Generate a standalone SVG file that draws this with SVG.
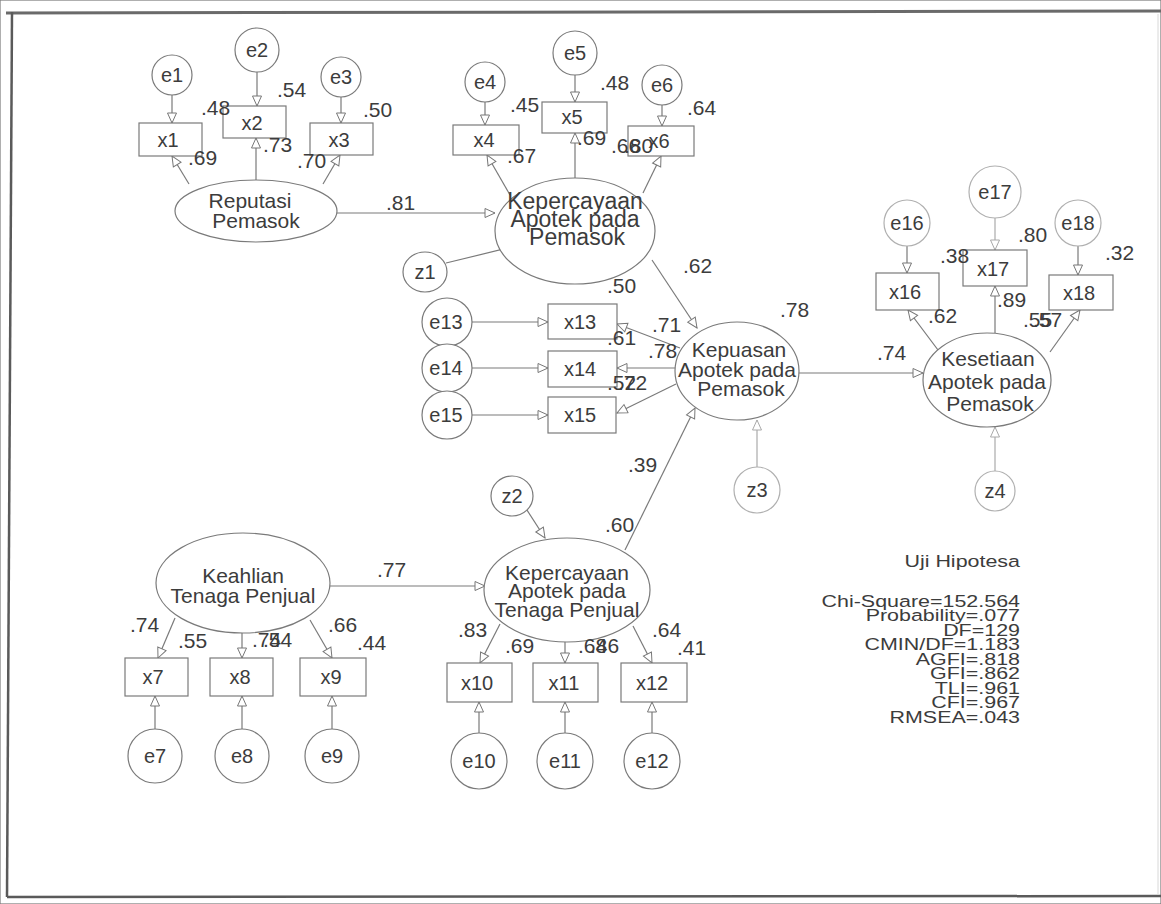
<svg xmlns="http://www.w3.org/2000/svg" width="1161" height="904" viewBox="0 0 1161 904">
<defs>
<marker id="ah" markerUnits="userSpaceOnUse" markerWidth="12" markerHeight="12" refX="11" refY="5" orient="auto" overflow="visible">
<path d="M1,0.5 L11,5 L1,9.5 Z" fill="#fff" stroke="#777" stroke-width="1"/>
</marker>
<marker id="ahl" markerUnits="userSpaceOnUse" markerWidth="12" markerHeight="12" refX="11" refY="5" orient="auto" overflow="visible">
<path d="M1,0.5 L11,5 L1,9.5 Z" fill="#fff" stroke="#aaa" stroke-width="1"/>
</marker>
</defs>
<style>
text{font-family:"Liberation Sans",Arial,sans-serif;fill:#3c3c3c}
.num{font-size:21px}
.lbl{font-size:20px;text-anchor:middle}
.ci{font-size:20px;text-anchor:middle}
.lat{font-size:21px;text-anchor:middle}
.lat2{font-size:23px;text-anchor:middle}
.st{font-size:16.5px;text-anchor:end}
ellipse,rect{fill:#fff;stroke:#7a7a7a;stroke-width:1.2}
.light{stroke:#b0b0b0}
#connectors line{stroke:#7a7a7a;stroke-width:1.2;marker-end:url(#ah)}
#connectors line.lt{stroke:#aaa;marker-end:url(#ahl)}
</style>
<rect x="0" y="0" width="1161" height="904" fill="#fff" stroke="none"/>
<g id="frame" fill="none">
<path d="M6,13 L1161,11" stroke="#6a6a6a" stroke-width="3"/>
<path d="M12,12 L7,897" stroke="#5a5a5a" stroke-width="2.5"/>
<path d="M7,897 L1161,896" stroke="#5a5a5a" stroke-width="2.5"/>
<path d="M1158,14 L1158,895" stroke="#d8d8d8" stroke-width="1"/>
</g>

<g id="connectors">
<line x1="172" y1="95" x2="172" y2="123"/>
<line x1="257" y1="72" x2="257" y2="106"/>
<line x1="341" y1="97" x2="341" y2="123"/>
<line x1="189" y1="184" x2="172" y2="156"/>
<line x1="256" y1="180" x2="256" y2="138"/>
<line x1="323" y1="184" x2="340" y2="155"/>
<line x1="337" y1="213" x2="495" y2="213"/>
<line x1="485" y1="102" x2="485" y2="125"/>
<line x1="575" y1="75" x2="575" y2="102"/>
<line x1="662" y1="105" x2="662" y2="126"/>
<line x1="510" y1="195" x2="487" y2="155"/>
<line x1="575" y1="178" x2="575" y2="133"/>
<line x1="643" y1="193" x2="661" y2="156"/>
<line x1="446" y1="263" x2="512" y2="247"/>
<line x1="652" y1="260" x2="697" y2="328"/>
<line x1="472" y1="322" x2="548" y2="322"/>
<line x1="472" y1="368" x2="548" y2="368"/>
<line x1="472" y1="415" x2="548" y2="415"/>
<line x1="680" y1="348" x2="617" y2="324"/>
<line x1="675" y1="368" x2="617" y2="368"/>
<line x1="676" y1="384" x2="617" y2="413"/>
<line x1="625" y1="550" x2="695" y2="408"/>
<line class="lt" x1="757" y1="467" x2="757" y2="420"/>
<line x1="799" y1="373" x2="923" y2="373"/>
<line x1="907" y1="246" x2="907" y2="273"/>
<line class="lt" x1="995" y1="218" x2="995" y2="250"/>
<line x1="1078" y1="246" x2="1078" y2="275"/>
<line x1="938" y1="350" x2="908" y2="310"/>
<line x1="995" y1="333" x2="995" y2="286"/>
<line x1="1050" y1="352" x2="1080" y2="310"/>
<line class="lt" x1="995" y1="471" x2="995" y2="427"/>
<line x1="175" y1="618" x2="158" y2="658"/>
<line x1="242" y1="633" x2="242" y2="658"/>
<line x1="310" y1="620" x2="332" y2="658"/>
<line x1="330" y1="586" x2="485" y2="586"/>
<line x1="525" y1="507" x2="545" y2="538"/>
<line x1="500" y1="624" x2="480" y2="663"/>
<line x1="565" y1="642" x2="565" y2="663"/>
<line x1="633" y1="626" x2="652" y2="663"/>
<line x1="155" y1="729" x2="155" y2="696"/>
<line x1="242" y1="729" x2="242" y2="696"/>
<line x1="332" y1="729" x2="332" y2="696"/>
<line x1="479" y1="733" x2="479" y2="702"/>
<line x1="565" y1="733" x2="565" y2="702"/>
<line x1="652" y1="733" x2="652" y2="702"/>
</g>

<g id="e1"><ellipse cx="172" cy="75" rx="20" ry="20"/><text class="ci" x="172" y="82">e1</text></g>
<g id="e2"><ellipse cx="257" cy="50" rx="22" ry="22"/><text class="ci" x="257" y="57">e2</text></g>
<g id="e3"><ellipse cx="341" cy="77" rx="20" ry="20"/><text class="ci" x="341" y="84">e3</text></g>
<g id="e4"><ellipse cx="485" cy="82" rx="20" ry="20"/><text class="ci" x="485" y="89">e4</text></g>
<g id="e5"><ellipse cx="575" cy="53" rx="22" ry="22"/><text class="ci" x="575" y="60">e5</text></g>
<g id="e6"><ellipse cx="662" cy="85" rx="20" ry="20"/><text class="ci" x="662" y="92">e6</text></g>
<g id="z1"><ellipse cx="425" cy="272" rx="22" ry="20"/><text class="ci" x="425" y="279">z1</text></g>
<g id="e13"><ellipse cx="447" cy="322" rx="25" ry="24"/><text class="ci" x="446" y="329">e13</text></g>
<g id="e14"><ellipse cx="447" cy="368" rx="25" ry="24"/><text class="ci" x="446" y="375">e14</text></g>
<g id="e15"><ellipse cx="447" cy="415" rx="25" ry="24"/><text class="ci" x="446" y="422">e15</text></g>
<g id="e16"><ellipse class="light" cx="907" cy="223" rx="23" ry="23"/><text class="ci" x="907" y="230">e16</text></g>
<g id="e17"><ellipse class="light" cx="995" cy="192" rx="26" ry="26"/><text class="ci" x="995" y="199">e17</text></g>
<g id="e18"><ellipse class="light" cx="1078" cy="223" rx="23" ry="23"/><text class="ci" x="1078" y="230">e18</text></g>
<g id="z2"><ellipse cx="512" cy="496" rx="21" ry="20"/><text class="ci" x="512" y="503">z2</text></g>
<g id="z3"><ellipse class="light" cx="757" cy="490" rx="23" ry="23"/><text class="ci" x="757" y="497">z3</text></g>
<g id="z4"><ellipse class="light" cx="995" cy="491" rx="20" ry="20"/><text class="ci" x="995" y="498">z4</text></g>
<g id="e7"><ellipse cx="155" cy="756" rx="27" ry="27"/><text class="ci" x="155" y="763">e7</text></g>
<g id="e8"><ellipse cx="242" cy="756" rx="27" ry="27"/><text class="ci" x="242" y="763">e8</text></g>
<g id="e9"><ellipse cx="332" cy="756" rx="27" ry="27"/><text class="ci" x="332" y="763">e9</text></g>
<g id="e10"><ellipse cx="479" cy="761" rx="28" ry="28"/><text class="ci" x="479" y="768">e10</text></g>
<g id="e11"><ellipse cx="565" cy="761" rx="28" ry="28"/><text class="ci" x="565" y="768">e11</text></g>
<g id="e12"><ellipse cx="652" cy="761" rx="28" ry="28"/><text class="ci" x="652" y="768">e12</text></g>

<g id="x1"><rect x="139" y="123" width="63" height="33"/><text class="lbl" x="168" y="147">x1</text></g>
<g id="x2"><rect x="223" y="106" width="63" height="32"/><text class="lbl" x="252" y="130">x2</text></g>
<g id="x3"><rect x="310" y="123" width="63" height="32"/><text class="lbl" x="339" y="147">x3</text></g>
<g id="x4"><rect x="453" y="125" width="66" height="30"/><text class="lbl" x="484" y="147">x4</text></g>
<g id="x5"><rect x="542" y="102" width="65" height="31"/><text class="lbl" x="572" y="124">x5</text></g>
<g id="x6"><rect x="628" y="126" width="66" height="30"/><text class="lbl" x="659" y="148">x6</text></g>
<g id="x13"><rect x="548" y="304" width="69" height="35"/><text class="lbl" x="580" y="329">x13</text></g>
<g id="x14"><rect x="548" y="351" width="69" height="36"/><text class="lbl" x="580" y="376">x14</text></g>
<g id="x15"><rect x="548" y="397" width="68" height="36"/><text class="lbl" x="580" y="422">x15</text></g>
<g id="x16"><rect x="876" y="273" width="63" height="37"/><text class="lbl" x="905" y="299">x16</text></g>
<g id="x17"><rect x="963" y="250" width="64" height="36"/><text class="lbl" x="993" y="276">x17</text></g>
<g id="x18"><rect x="1049" y="275" width="64" height="35"/><text class="lbl" x="1079" y="300">x18</text></g>
<g id="x7"><rect x="125" y="658" width="63" height="38"/><text class="lbl" x="153" y="684">x7</text></g>
<g id="x8"><rect x="210" y="658" width="63" height="38"/><text class="lbl" x="240" y="684">x8</text></g>
<g id="x9"><rect x="300" y="658" width="66" height="38"/><text class="lbl" x="331" y="684">x9</text></g>
<g id="x10"><rect x="447" y="663" width="65" height="39"/><text class="lbl" x="477" y="690">x10</text></g>
<g id="x11"><rect x="533" y="663" width="65" height="39"/><text class="lbl" x="564" y="690">x11</text></g>
<g id="x12"><rect x="621" y="663" width="66" height="39"/><text class="lbl" x="652" y="690">x12</text></g>

<g id="reputasi"><ellipse cx="256" cy="211" rx="81" ry="31"/><text class="lat" x="250" y="208">Reputasi</text><text class="lat" x="256" y="228">Pemasok</text></g>
<g id="kepercayaan-pemasok"><ellipse cx="575" cy="231" rx="80" ry="53"/><text class="lat2" x="575" y="209">Kepercayaan</text><text class="lat2" x="575" y="227">Apotek pada</text><text class="lat2" x="577" y="245">Pemasok</text></g>
<g id="kepuasan"><ellipse cx="737" cy="371" rx="62" ry="49"/><text class="lat" x="739" y="357">Kepuasan</text><text class="lat" x="737" y="377">Apotek pada</text><text class="lat" x="741" y="396">Pemasok</text></g>
<g id="kesetiaan"><ellipse cx="987" cy="380" rx="64" ry="47"/><text class="lat" x="988" y="366">Kesetiaan</text><text class="lat" x="987" y="389">Apotek pada</text><text class="lat" x="990" y="411">Pemasok</text></g>
<g id="keahlian"><ellipse cx="243" cy="583" rx="87" ry="50"/><text class="lat" x="243" y="583">Keahlian</text><text class="lat" x="243" y="603">Tenaga Penjual</text></g>
<g id="kepercayaan-tenaga"><ellipse cx="567" cy="590" rx="83" ry="52"/><text class="lat" x="567" y="580">Kepercayaan</text><text class="lat" x="567" y="598">Apotek pada</text><text class="lat" x="567" y="617">Tenaga Penjual</text></g>

<g id="estimates">
<text class="num" x="201" y="115">.48</text>
<text class="num" x="277" y="97">.54</text>
<text class="num" x="363" y="117">.50</text>
<text class="num" x="188" y="165">.69</text>
<text class="num" x="263" y="152">.73</text>
<text class="num" x="297" y="168">.70</text>
<text class="num" x="386" y="210">.81</text>
<text class="num" x="510" y="112">.45</text>
<text class="num" x="600" y="90">.48</text>
<text class="num" x="687" y="115">.64</text>
<text class="num" x="507" y="163">.67</text>
<text class="num" x="577" y="145">.69</text>
<text class="num" x="611" y="153">.66</text>
<text class="num" x="624" y="153">.80</text>
<text class="num" x="683" y="273">.62</text>
<text class="num" x="607" y="293">.50</text>
<text class="num" x="780" y="317">.78</text>
<text class="num" x="652" y="332">.71</text>
<text class="num" x="607" y="345">.61</text>
<text class="num" x="648" y="358">.78</text>
<text class="num" x="607" y="390">.52</text>
<text class="num" x="618" y="390">.72</text>
<text class="num" x="628" y="472">.39</text>
<text class="num" x="605" y="532">.60</text>
<text class="num" x="940" y="263">.38</text>
<text class="num" x="1018" y="242">.80</text>
<text class="num" x="1105" y="260">.32</text>
<text class="num" x="928" y="323">.62</text>
<text class="num" x="997" y="307">.89</text>
<text class="num" x="1023" y="327">.55</text>
<text class="num" x="1033" y="327">.57</text>
<text class="num" x="877" y="360">.74</text>
<text class="num" x="377" y="577">.77</text>
<text class="num" x="130" y="632">.74</text>
<text class="num" x="178" y="648">.55</text>
<text class="num" x="252" y="647">.74</text>
<text class="num" x="263" y="647">.54</text>
<text class="num" x="328" y="632">.66</text>
<text class="num" x="357" y="650">.44</text>
<text class="num" x="458" y="637">.83</text>
<text class="num" x="505" y="653">.69</text>
<text class="num" x="578" y="653">.68</text>
<text class="num" x="590" y="653">.46</text>
<text class="num" x="652" y="637">.64</text>
<text class="num" x="677" y="655">.41</text>
</g>

<g id="fit-stats" transform="translate(1020,0) scale(1.3,1)">
<text class="st" x="0" y="567">Uji Hipotesa</text>
<text class="st" x="0" y="607">Chi-Square=152.564</text>
<text class="st" x="0" y="621.5">Probability=.077</text>
<text class="st" x="0" y="636">DF=129</text>
<text class="st" x="0" y="650.5">CMIN/DF=1.183</text>
<text class="st" x="0" y="665">AGFI=.818</text>
<text class="st" x="0" y="679.5">GFI=.862</text>
<text class="st" x="0" y="694">TLI=.961</text>
<text class="st" x="0" y="708.5">CFI=.967</text>
<text class="st" x="0" y="723">RMSEA=.043</text>
</g>
</svg>
